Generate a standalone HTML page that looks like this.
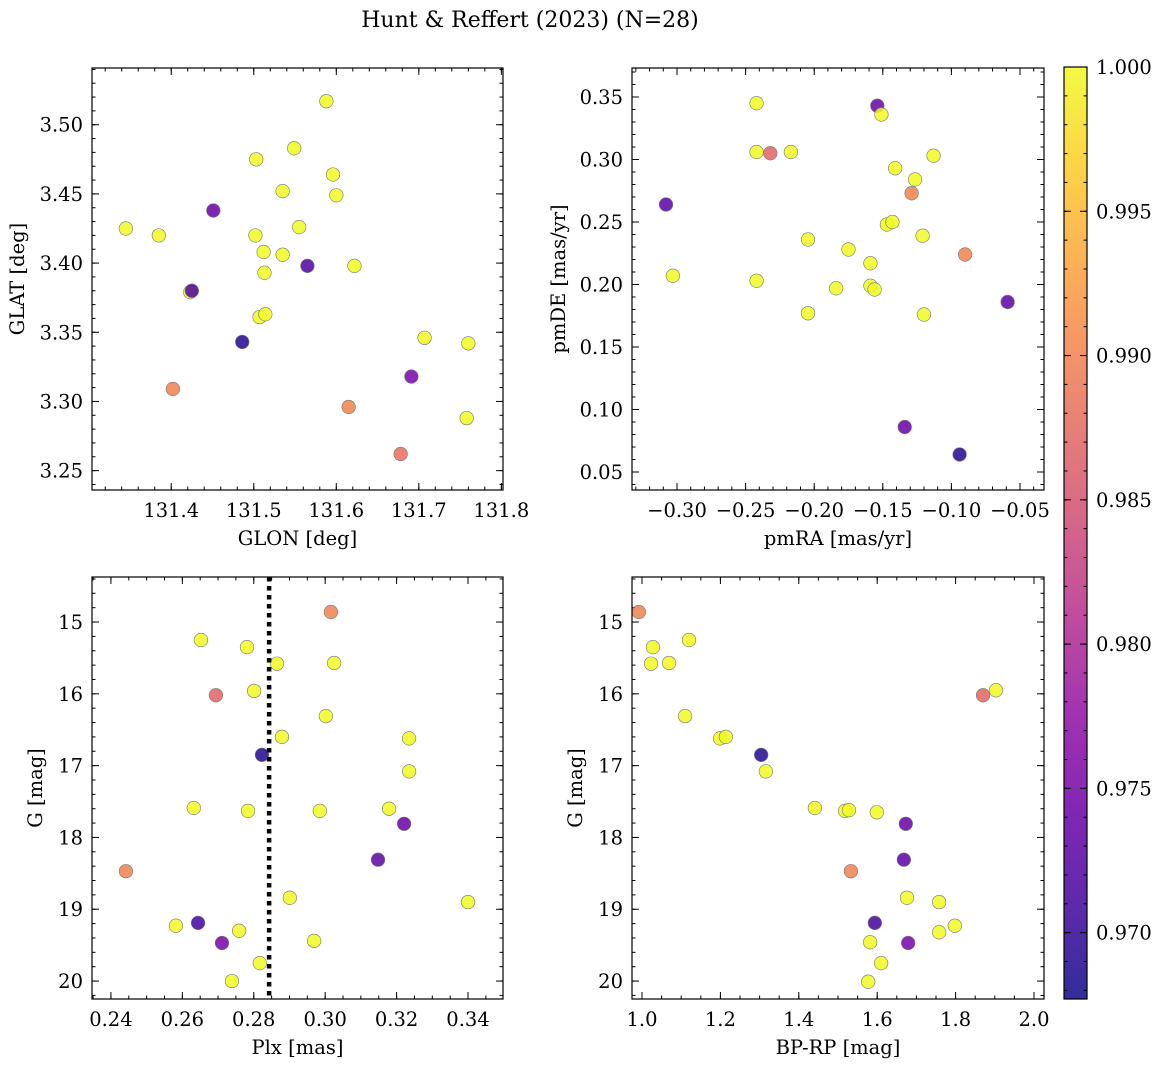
<!DOCTYPE html>
<html><head><meta charset="utf-8"><style>
html,body{margin:0;padding:0;background:#fff;}
svg{display:block;font-family:"DejaVu Serif","Liberation Serif",serif;}
</style></head><body>
<svg id="fig" width="1161" height="1067" viewBox="0 0 1161 1067" xmlns="http://www.w3.org/2000/svg">
<text x="530" y="27" text-anchor="middle" font-size="22">Hunt &amp; Reffert (2023) (N=28)</text>
</svg>
<script>
// ---- data ----
const tlGlon=[131.345,131.385,131.423,131.425,131.451,131.402,131.486,131.503,131.502,131.512,131.513,131.507,131.514,131.535,131.535,131.549,131.555,131.565,131.588,131.596,131.600,131.622,131.615,131.707,131.691,131.678,131.758,131.760];
const tlGlat=[3.425,3.420,3.379,3.380,3.438,3.309,3.343,3.475,3.420,3.408,3.393,3.361,3.363,3.452,3.406,3.483,3.426,3.398,3.517,3.464,3.449,3.398,3.296,3.346,3.318,3.262,3.288,3.342];
const tlProb=[1,1,1,0.972,0.974,0.990,0.969,1,1,1,1,1,1,1,1,1,1,0.972,1,1,1,1,0.990,1,0.975,0.988,1,1];
const trPmra=[-0.308,-0.303,-0.242,-0.242,-0.232,-0.217,-0.242,-0.2045,-0.175,-0.184,-0.2045,-0.159,-0.159,-0.156,-0.154,-0.151,-0.147,-0.143,-0.141,-0.1265,-0.129,-0.113,-0.121,-0.120,-0.090,-0.134,-0.094,-0.059];
const trPmde=[0.264,0.207,0.345,0.306,0.305,0.306,0.203,0.236,0.228,0.197,0.177,0.217,0.199,0.196,0.343,0.336,0.248,0.250,0.293,0.284,0.273,0.303,0.239,0.176,0.224,0.086,0.064,0.186];
const trProb=[0.973,1,1,1,0.987,1,1,1,1,1,1,1,1,1,0.974,1,1,1,1,1,0.990,1,1,1,0.990,0.974,0.969,0.973];
const blPlx=[0.2442,0.2582,0.2644,0.2632,0.2652,0.2694,0.2711,0.2739,0.2759,0.2781,0.2784,0.2801,0.2823,0.2817,0.2865,0.2879,0.2901,0.2969,0.2985,0.3002,0.3016,0.3025,0.3148,0.3179,0.3221,0.3235,0.3235,0.3400];
const blG=[18.47,19.23,19.19,17.59,15.25,16.02,19.47,20.00,19.30,15.35,17.63,15.96,16.85,19.75,15.58,16.60,18.84,19.44,17.63,16.31,14.86,15.57,18.31,17.60,17.81,16.62,17.08,18.90];
const blProb=[0.990,1,0.971,1,1,0.987,0.975,1,1,1,1,1,0.969,1,1,1,1,1,1,1,0.990,1,0.973,1,0.974,1,1,1];
const blMeanPlx=[0.2843];
const brBprp=[0.992,1.028,1.023,1.069,1.120,1.110,1.199,1.214,1.304,1.316,1.441,1.518,1.528,1.599,1.533,1.673,1.668,1.676,1.758,1.798,1.758,1.594,1.582,1.610,1.577,1.679,1.870,1.903];
const brG=[14.86,15.35,15.58,15.57,15.25,16.31,16.62,16.60,16.85,17.08,17.59,17.63,17.62,17.65,18.47,17.81,18.31,18.84,18.90,19.23,19.32,19.19,19.46,19.75,20.01,19.47,16.02,15.95];
const brProb=[0.990,1,1,1,1,1,1,1,0.969,1,1,1,1,1,0.990,0.974,0.973,1,1,1,1,0.971,1,1,1,0.975,0.987,1];
const tlXTicks=[131.4,131.5,131.6,131.7,131.8];
const tlYTicks=[3.25,3.30,3.35,3.40,3.45,3.50];
const trXTicks=[-0.30,-0.25,-0.20,-0.15,-0.10,-0.05];
const trYTicks=[0.05,0.10,0.15,0.20,0.25,0.30,0.35];
const blXTicks=[0.24,0.26,0.28,0.30,0.32,0.34];
const gTicks=[15,16,17,18,19,20];
const brXTicks=[1.0,1.2,1.4,1.6,1.8,2.0];
const cbTicks=[0.970,0.975,0.980,0.985,0.990,0.995,1.000];
const cbMin=0.9677, cbMax=1.0;

const NS="http://www.w3.org/2000/svg";
const svg=document.getElementById('fig');
const FS=19.5;
function mk(tag,attrs,parent){const e=document.createElementNS(NS,tag);for(const k in attrs)e.setAttribute(k,attrs[k]);(parent||svg).appendChild(e);return e;}

const stops=[[13,8,135],[65,4,157],[106,0,168],[143,13,164],[177,42,144],[204,71,120],[225,100,98],[242,132,75],[252,166,54],[252,206,37],[240,249,33]];
function plasma(t){t=Math.max(0,Math.min(1,t));const p=t*10,i=Math.min(9,Math.floor(p)),f=p-i;const a=stops[i],b=stops[i+1];return 'rgb('+[0,1,2].map(k=>Math.round(a[k]+(b[k]-a[k])*f)).join(',')+')';}
function colorOf(v){return plasma((v-cbMin)/(cbMax-cbMin));}
function fmt(v,d){return v.toFixed(d).replace('-','\u2212');}

function panel(o){
  const g=mk('g',{});
  
  
  const sx=v=>o.x0+(v-o.xmin)/(o.xmax-o.xmin)*(o.x1-o.x0);
  const sy=o.invert?(v=>o.y0+(v-o.ymin)/(o.ymax-o.ymin)*(o.y1-o.y0)):(v=>o.y1-(v-o.ymin)/(o.ymax-o.ymin)*(o.y1-o.y0));
  const tg=mk('g',{stroke:'#000','stroke-width':1},g);
  
  
  const xstep=o.xt[1]-o.xt[0], ystep=o.yt[1]-o.yt[0];
  const xm=xstep/o.xsub, ym=ystep/o.ysub;
  for(let v=Math.ceil(o.xmin/xm-1e-6)*xm; v<=o.xmax+1e-9; v+=xm){const X=sx(v);mk('line',{x1:X,x2:X,y1:o.y1,y2:o.y1-3.5},tg);mk('line',{x1:X,x2:X,y1:o.y0,y2:o.y0+3.5},tg);}
  for(let v=Math.ceil(o.ymin/ym-1e-6)*ym; v<=o.ymax+1e-9; v+=ym){const Y=sy(v);mk('line',{x1:o.x0,x2:o.x0+3.5,y1:Y,y2:Y},tg);mk('line',{x1:o.x1,x2:o.x1-3.5,y1:Y,y2:Y},tg);}
  o.xt.forEach(v=>{const X=sx(v);mk('line',{x1:X,x2:X,y1:o.y1,y2:o.y1-7},tg);mk('line',{x1:X,x2:X,y1:o.y0,y2:o.y0+7},tg);
    const t=mk('text',{x:X,y:o.y1+27,'text-anchor':'middle','font-size':FS,stroke:'none'},g);t.textContent=fmt(v,o.xd);
    });
  o.yt.forEach(v=>{const Y=sy(v);mk('line',{x1:o.x0,x2:o.x0+7,y1:Y,y2:Y},tg);mk('line',{x1:o.x1,x2:o.x1-7,y1:Y,y2:Y},tg);
    const t=mk('text',{x:o.x0-9,y:Y+7,'text-anchor':'end','font-size':FS},g);t.textContent=fmt(v,o.yd);
    });
  const pg=mk('g',{},g);
  
  
  o.xs.forEach((xv,i)=>{const c=mk('circle',{cx:sx(xv),cy:sy(o.ys[i]),r:6.8,fill:colorOf(o.ps[i]),'fill-opacity':0.85,stroke:'#777','stroke-width':0.6},pg);
    });
  if(o.vline){const X=sx(o.vline[0]);const l=mk('line',{x1:X,x2:X,y1:o.y0,y2:o.y1,stroke:'#000','stroke-width':4.5,'stroke-dasharray':'4.5,4.5'},g);
    }
  const fr=mk('rect',{x:o.x0,y:o.y0,width:o.x1-o.x0,height:o.y1-o.y0,fill:'none',stroke:'#000','stroke-width':1.2},g);
  
  const xl=mk('text',{x:(o.x0+o.x1)/2,y:o.y1+55,'text-anchor':'middle','font-size':FS},g);xl.textContent=o.xlabel;
  
  const yx=o.x0-o.ylOff, yy=(o.y0+o.y1)/2;
  const yl=mk('text',{x:yx,y:yy,'text-anchor':'middle','font-size':FS,transform:'rotate(-90 '+yx+' '+yy+')'},g);yl.textContent=o.ylabel;
  
}

panel({name:'glon-glat-panel',x0:92,x1:503,y0:68,y1:490,xmin:131.304,xmax:131.802,ymin:3.236,ymax:3.541,xt:tlXTicks,yt:tlYTicks,xsub:5,ysub:5,xd:1,yd:2,xs:tlGlon,ys:tlGlat,ps:tlProb,xlabel:'GLON [deg]',ylabel:'GLAT [deg]',ylOff:68});
panel({name:'proper-motion-panel',x0:632,x1:1044,y0:68,y1:490,xmin:-0.3328,xmax:-0.0325,ymin:0.0356,ymax:0.3732,xt:trXTicks,yt:trYTicks,xsub:5,ysub:5,xd:2,yd:2,xs:trPmra,ys:trPmde,ps:trProb,xlabel:'pmRA [mas/yr]',ylabel:'pmDE [mas/yr]',ylOff:67});
panel({name:'parallax-g-panel',x0:92,x1:503,y0:577,y1:999,xmin:0.2347,xmax:0.3498,ymin:14.373,ymax:20.25,invert:true,xt:blXTicks,yt:gTicks,xsub:4,ysub:5,xd:2,yd:0,xs:blPlx,ys:blG,ps:blProb,vline:blMeanPlx,xlabel:'Plx [mas]',ylabel:'G [mag]',ylOff:50});
panel({name:'cmd-panel',x0:632,x1:1044,y0:577,y1:999,xmin:0.9745,xmax:2.0255,ymin:14.373,ymax:20.25,invert:true,xt:brXTicks,yt:gTicks,xsub:4,ysub:5,xd:1,yd:0,xs:brBprp,ys:brG,ps:brProb,xlabel:'BP-RP [mag]',ylabel:'G [mag]',ylOff:50});

const cb=mk('g',{});


const defs=mk('defs',{},cb);
const lg=mk('linearGradient',{id:'cbg',x1:0,y1:1,x2:0,y2:0},defs);
for(let i=0;i<=20;i++){mk('stop',{offset:i/20,'stop-color':plasma(i/20)},lg);}
const cx0=1064,cx1=1087,cy0=67,cy1=999;
mk('rect',{x:cx0,y:cy0,width:cx1-cx0,height:cy1-cy0,fill:'url(#cbg)','fill-opacity':0.85},cb);
const csy=v=>cy1-(v-cbMin)/(cbMax-cbMin)*(cy1-cy0);
for(let v=0.968;v<=1.00001;v+=0.001){const Y=csy(v);mk('line',{x1:cx1,x2:cx1-3.5,y1:Y,y2:Y,stroke:'#000'},cb);mk('line',{x1:cx0,x2:cx0+3.5,y1:Y,y2:Y,stroke:'#000'},cb);}
cbTicks.forEach(v=>{const Y=csy(v);mk('line',{x1:cx1,x2:cx1-7,y1:Y,y2:Y,stroke:'#000'},cb);mk('line',{x1:cx0,x2:cx0+7,y1:Y,y2:Y,stroke:'#000'},cb);
  const t=mk('text',{x:cx1+9,y:Y+7,'font-size':FS},cb);t.textContent=v.toFixed(3);
  });
mk('rect',{x:cx0,y:cy0,width:cx1-cx0,height:cy1-cy0,fill:'none',stroke:'#000','stroke-width':1.2},cb);
</script>
</body></html>
